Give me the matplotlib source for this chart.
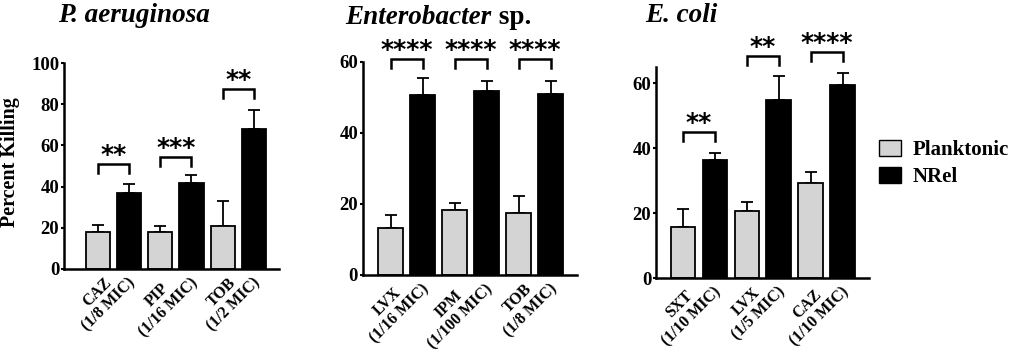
import matplotlib
matplotlib.use("Agg")
import matplotlib.pyplot as plt
from matplotlib.patches import Patch
from matplotlib.transforms import ScaledTranslation
import numpy as np

plt.rcParams['font.family'] = ['Liberation Serif', 'DejaVu Serif']
plt.rcParams['font.weight'] = 'bold'

# ---- data ----
labels_pa = ["CAZ\n(1/8 MIC)", "PIP\n(1/16 MIC)", "TOB\n(1/2 MIC)"]
labels_en = ["LVX\n(1/16 MIC)", "IPM\n(1/100 MIC)", "TOB\n(1/8 MIC)"]
labels_ec = ["SXT\n(1/10 MIC)", "LVX\n(1/5 MIC)", "CAZ\n(1/10 MIC)"]

plank_pa = [18.0, 18.0, 20.8]
plank_pa_err = [3.3, 3.0, 12.2]
nrel_pa = [37.0, 41.8, 68.2]
nrel_pa_err = [4.1, 3.7, 9.1]

plank_en = [13.2, 18.2, 17.6]
plank_en_err = [3.7, 2.2, 4.7]
nrel_en = [50.6, 51.9, 51.0]
nrel_en_err = [4.8, 2.8, 3.7]

plank_ec = [15.7, 20.7, 29.2]
plank_ec_err = [5.5, 2.8, 3.4]
nrel_ec = [36.5, 54.9, 59.4]
nrel_ec_err = [1.9, 7.4, 3.8]

stars_pa = ["**", "***", "**"]
stars_en = ["****", "****", "****"]
stars_ec = ["**", "**", "****"]
bracket_pa = [50.8, 54.4, 87.3]
bracket_en = [60.8, 60.8, 60.8]
bracket_ec = [45.0, 68.4, 69.7]

ylims = [(0, 100), (0, 60), (0, 65)]
yticks = [[0, 20, 40, 60, 80, 100], [0, 20, 40, 60], [0, 20, 40, 60]]

PLANK_COLOR = "#d4d4d4"

fig = plt.figure(figsize=(10.13, 3.55), dpi=100)
positions = [
    [0.0632, 0.2423, 0.2122, 0.5802],
    [0.3583, 0.2254, 0.2113, 0.6000],
    [0.6476, 0.2169, 0.2102, 0.5940],
]
xlims = [(-0.79, 2.65), (-0.68, 2.66), (-0.67, 2.66)]

panels = [
    (labels_pa, plank_pa, plank_pa_err, nrel_pa, nrel_pa_err, stars_pa, bracket_pa),
    (labels_en, plank_en, plank_en_err, nrel_en, nrel_en_err, stars_en, bracket_en),
    (labels_ec, plank_ec, plank_ec_err, nrel_ec, nrel_ec_err, stars_ec, bracket_ec),
]

off = 0.25
w = 0.385
DROP_PX = 9.0
for i, (labs, pv, pe, nv, ne, st, br) in enumerate(panels):
    ax = fig.add_axes(positions[i])
    x = np.arange(len(labs))
    ax.bar(x - off, pv, w, color=PLANK_COLOR, edgecolor='black', linewidth=1.3, zorder=2)
    ax.bar(x + off, nv, w, color='black', edgecolor='black', linewidth=1.3, zorder=2)
    ax.errorbar(x - off, pv, yerr=[np.zeros(len(pe)), pe], fmt='none', ecolor='black',
                elinewidth=1.3, capsize=4.3, capthick=1.3, zorder=1)
    ax.errorbar(x + off, nv, yerr=[np.zeros(len(ne)), ne], fmt='none', ecolor='black',
                elinewidth=1.3, capsize=4.3, capthick=1.3, zorder=1)
    ax.set_xlim(*xlims[i])
    ax.set_ylim(*ylims[i])
    ylo, yhi = ylims[i]
    ax_h_px = positions[i][3] * 355
    drop = DROP_PX * (yhi - ylo) / ax_h_px
    for j in range(len(labs)):
        yb = br[j]
        ax.plot([j - off, j - off, j + off, j + off], [yb - drop, yb, yb, yb - drop],
                color='black', lw=1.8, clip_on=False, solid_joinstyle='miter')
        ax.annotate(st[j], xy=(j, yb), xytext=(0, 1.5), textcoords='offset points',
                    ha='center', va='baseline', fontsize=18, fontweight='bold',
                    annotation_clip=False, family='DejaVu Sans')
    ax.tick_params(axis='x', length=0, pad=1)
    ax.tick_params(axis='y', length=2.5, width=1.5, labelsize=13.5, pad=1)
    ax.set_yticks(yticks[i])
    for lab in ax.get_yticklabels():
        lab.set_fontweight('bold')
    ax.set_xticks(x)
    ax.set_xticklabels(labs, rotation=45, ha='right', va='top', rotation_mode='anchor',
                       multialignment='center', fontsize=11.5, fontweight='bold',
                       linespacing=1.1)
    shift = ScaledTranslation(1.5 / 72, 5.5 / 72, fig.dpi_scale_trans)
    for lab in ax.get_xticklabels():
        lab.set_transform(lab.get_transform() + shift)
    ax.spines['top'].set_visible(False)
    ax.spines['right'].set_visible(False)
    ax.spines['left'].set_linewidth(1.8)
    ax.spines['bottom'].set_linewidth(1.8)
    if i == 0:
        ax.set_ylabel("Percent Killing", fontsize=14.5, fontweight='bold')
        ax.yaxis.set_label_coords(-0.205, 0.517)

# titles
fig.text(0.057, 0.955, "P. aeruginosa", fontsize=19.5, fontweight='bold', style='italic',
         ha='left', va='center')
t2 = fig.text(0.341, 0.952, "Enterobacter", fontsize=19.5, fontweight='bold', style='italic',
              ha='left', va='center')
plt.annotate(" sp.", xy=(1, 0), xycoords=t2, xytext=(0, 0), textcoords='offset points',
             ha='left', va='bottom', fontsize=19.5, fontweight='bold')
fig.text(0.637, 0.955, "E. coli", fontsize=19.5, fontweight='bold', style='italic',
         ha='left', va='center')

handles = [Patch(facecolor=PLANK_COLOR, edgecolor='black', linewidth=1.0),
           Patch(facecolor='black', edgecolor='black', linewidth=1.0)]
fig.legend(handles, ["Planktonic", "NRel"], loc='upper left', bbox_to_anchor=(0.868, 0.606),
           frameon=False, handlelength=1.06, handleheight=0.8, borderpad=0, borderaxespad=0,
           handletextpad=0.55, labelspacing=0.32, prop={'weight': 'bold', 'size': 15})

fig.savefig("out.png", dpi=100)
